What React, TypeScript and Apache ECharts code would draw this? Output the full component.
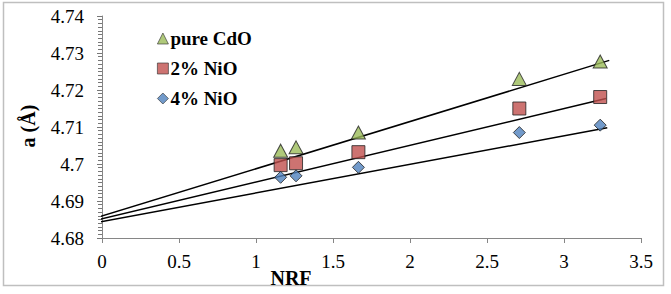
import React, { useEffect, useRef } from "react";
import * as echarts from "echarts";

const nrf = [1.16, 1.26, 1.665, 2.71, 3.235];
const pureCdO = [4.7036, 4.7045, 4.7085, 4.723, 4.7277];
const nio2 = [4.6997, 4.7002, 4.7032, 4.715, 4.7181];
const nio4 = [4.6964, 4.6968, 4.6991, 4.7085, 4.7105];

const trendPure: [number, number][] = [[-0.097, 4.6847], [3.294, 4.728]];
const trend2: [number, number][] = [[-0.078, 4.6844], [3.273, 4.7177]];
const trend4: [number, number][] = [[-0.06, 4.684], [3.281, 4.7098]];

const seriesNames = ["pure CdO", "2% NiO", "4% NiO"];
const FONT = "'Times New Roman', 'Liberation Serif', serif";

export default function App() {
  const ref = useRef<HTMLDivElement>(null);
  useEffect(() => {
    if (!ref.current) return;
    const chart = echarts.init(ref.current, undefined, { renderer: "svg" });
    const pts = (ys: number[]) => nrf.map((x, i) => [x, ys[i]]);
    const trend = (d: [number, number][]) => ({
      type: "line",
      data: d,
      symbol: "none",
      lineStyle: { color: "#000", width: 1.5 },
      z: 1,
      silent: true,
    });
    chart.setOption({
      animation: false,
      backgroundColor: "#fff",
      textStyle: { fontFamily: FONT },
      grid: { left: 102, right: 30, top: 16, bottom: 56 },
      xAxis: {
        type: "value",
        min: 0,
        max: 3.5,
        interval: 0.5,
        axisLine: { show: true, onZero: false, lineStyle: { color: "#868686", width: 1 } },
        axisTick: { show: true, length: 5, lineStyle: { color: "#868686" } },
        axisLabel: { color: "#000", fontFamily: FONT, fontSize: 19, margin: 14 },
        splitLine: { show: false },
      },
      yAxis: {
        type: "value",
        min: 4.68,
        max: 4.74,
        interval: 0.01,
        axisLine: { show: true, lineStyle: { color: "#868686", width: 1 } },
        axisTick: { show: true, length: 5, lineStyle: { color: "#777" } },
        minorTick: { show: true, splitNumber: 10, length: 4, lineStyle: { color: "#777", width: 1 } },
        axisLabel: {
          color: "#000",
          fontFamily: FONT,
          fontSize: 19,
          margin: 18,
          formatter: (v: number) => String(Math.round(v * 100) / 100),
        },
        splitLine: { show: false },
      },
      legend: {
        orient: "vertical",
        left: 152,
        top: 24,
        itemGap: 11,
        itemWidth: 11,
        itemHeight: 11,
        itemStyle: { borderColor: "#333", borderWidth: 0.8 },
        textStyle: { fontFamily: FONT, fontSize: 19, fontWeight: "bold", color: "#000", padding: [0, 0, 0, -3] },
        data: seriesNames,
      },
      series: [
        trend(trendPure),
        trend(trend2),
        trend(trend4),
        {
          name: seriesNames[0],
          type: "scatter",
          data: pts(pureCdO),
          symbol: "triangle",
          symbolSize: [14, 13],
          itemStyle: { color: "#9BBB59", borderColor: "#222", borderWidth: 1 },
          z: 3,
        },
        {
          name: seriesNames[1],
          type: "scatter",
          data: pts(nio2),
          symbol: "rect",
          symbolSize: 13,
          itemStyle: { color: "#C0504D", borderColor: "#222", borderWidth: 1 },
          z: 3,
        },
        {
          name: seriesNames[2],
          type: "scatter",
          data: pts(nio4),
          symbol: "diamond",
          symbolSize: 12,
          itemStyle: { color: "#4F81BD", borderColor: "#222", borderWidth: 1 },
          z: 3,
        },
      ],
      graphic: [
        {
          type: "rect",
          shape: { x: 3.5, y: 2.5, width: 660, height: 283 },
          style: { fill: "none", stroke: "#bfbfbf", lineWidth: 1.5 },
          silent: true,
        },
        {
          type: "text",
          x: 291,
          y: 278,
          style: {
            text: "NRF",
            fontFamily: FONT,
            fontSize: 20,
            fontWeight: "bold",
            fill: "#000",
            align: "center",
            verticalAlign: "middle",
          },
        },
        {
          type: "text",
          x: 28,
          y: 126,
          rotation: Math.PI / 2,
          style: {
            text: "a (Å)",
            fontFamily: FONT,
            fontSize: 20,
            fontWeight: "bold",
            fill: "#000",
            align: "center",
            verticalAlign: "middle",
          },
        },
      ],
    });
    return () => chart.dispose();
  }, []);
  return (
    <div
      ref={ref}
      style={{ position: "fixed", left: 0, top: 0, width: 671, height: 294 }}
    />
  );
}
